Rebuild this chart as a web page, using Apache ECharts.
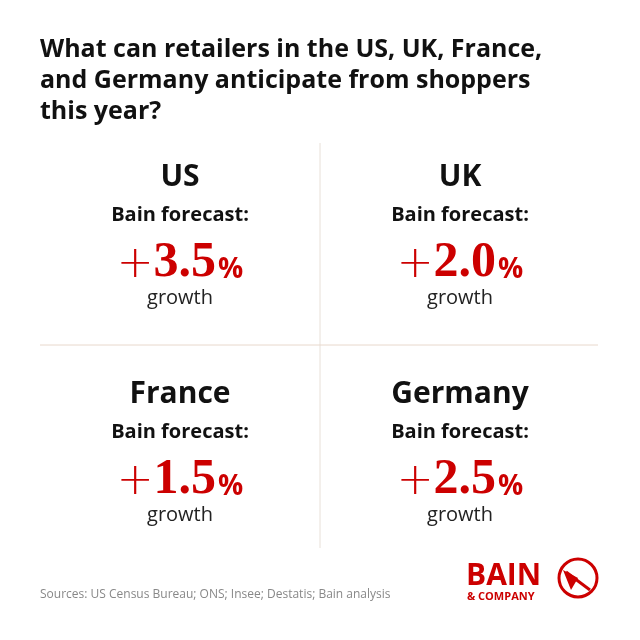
<!DOCTYPE html>
<html><head><meta charset="utf-8">
<script src="https://cdn.jsdelivr.net/npm/echarts@6/dist/echarts.min.js"></script>
<style>html,body{margin:0;padding:0;background:#fff}#c{width:640px;height:640px}</style>
</head><body><div id="c"></div>
<script>
const titleLines = ["What can retailers in the US, UK, France,", "and Germany anticipate from shoppers", "this year?"];
const countries = ["US", "UK", "France", "Germany"];
const forecasts = ["3.5", "2.0", "1.5", "2.5"];
const subLabel = "Bain forecast:";
const unitLabel = "growth";
const source = "Sources: US Census Bureau; ONS; Insee; Destatis; Bain analysis";

const RED = "#cc0000";
const chart = echarts.init(document.getElementById('c'), null, {renderer: 'canvas'});
const g = [];
titleLines.forEach((t, i) => g.push({type: 'text', left: 40, top: 37 + i * 31,
  style: {text: t, font: 'bold 25px "Open Sans", sans-serif', fill: '#111'}}));
g.push({type: 'line', shape: {x1: 320, y1: 143, x2: 320, y2: 548}, style: {stroke: '#e8e0d8', lineWidth: 1}});
g.push({type: 'line', shape: {x1: 40, y1: 345, x2: 598, y2: 345}, style: {stroke: '#e8d8cc', lineWidth: 1}});
const cx = [180, 460], cy = [177, 394];
countries.forEach((c, i) => {
  const x = cx[i % 2], y = cy[Math.floor(i / 2)];
  g.push({type: 'text', x, y, style: {text: c, font: 'bold 30px "Open Sans", sans-serif', fill: '#111', align: 'center', verticalAlign: 'middle'}});
  g.push({type: 'text', x, y: y + 38, style: {text: subLabel, font: 'bold 20px "Open Sans", sans-serif', fill: '#111', align: 'center', verticalAlign: 'middle'}});
  g.push({type: 'text', x, y: y + 86, style: {
    text: '{s|+}{n|' + forecasts[i] + '}{p|%}', align: 'center', verticalAlign: 'middle',
    rich: {
      s: {font: '300 44px "DejaVu Sans", sans-serif', fill: RED, verticalAlign: 'bottom'},
      n: {font: 'bold 50px "Liberation Serif", serif', fill: RED, verticalAlign: 'bottom'},
      p: {font: 'bold 28px "Open Sans", sans-serif', fill: RED, verticalAlign: 'bottom', padding: [0, 0, 4, 2]}
    }}});
  g.push({type: 'text', x, y: y + 121, style: {text: unitLabel, font: '20px "Open Sans", sans-serif', fill: '#222', align: 'center', verticalAlign: 'middle'}});
});
g.push({type: 'text', left: 40, top: 589, style: {text: source, font: '12px "Open Sans", sans-serif', fill: '#888'}});
g.push({type: 'text', x: 466, y: 576, style: {text: 'BAIN', font: 'bold 30px "Open Sans", sans-serif', fill: RED, verticalAlign: 'middle'}});
g.push({type: 'text', x: 467, y: 597, style: {text: '& COMPANY', font: 'bold 11px "Open Sans", sans-serif', fill: RED, verticalAlign: 'middle'}});
g.push({type: 'circle', shape: {cx: 578, cy: 578, r: 19}, style: {fill: 'none', stroke: RED, lineWidth: 3}});
g.push({type: 'polygon', shape: {points: [[563, 570], [578, 578], [571, 590]]}, style: {fill: RED}});
g.push({type: 'line', shape: {x1: 566, y1: 572, x2: 590, y2: 590}, style: {stroke: RED, lineWidth: 3}});
chart.setOption({backgroundColor: '#fff', animation: false, graphic: g});
</script></body></html>
